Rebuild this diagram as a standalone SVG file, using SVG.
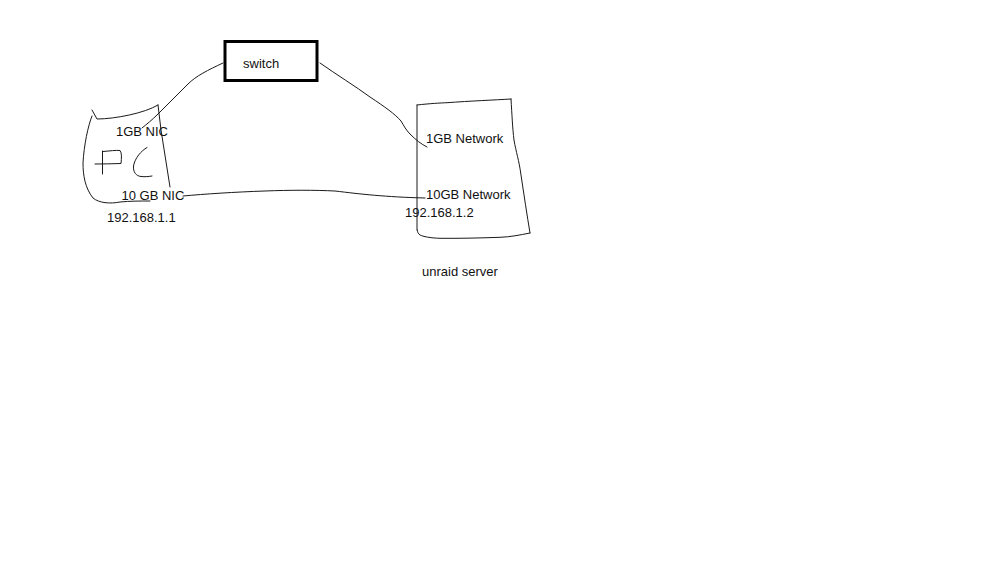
<svg xmlns="http://www.w3.org/2000/svg" width="1000" height="562" viewBox="0 0 1000 562">
<style>
.ink{fill:none;stroke:#1a1a1a;stroke-width:1;stroke-linecap:round;stroke-linejoin:round}
.t{font-family:"Liberation Sans",Arial,sans-serif;font-size:13px;fill:#111111}
</style>
<rect width="1000" height="562" fill="#ffffff"/>
<g id="connectors">
<path class="ink" d="M223,63 C208,70 196,76 188,84 C178,94 168,104 158,114 C152,120 147,124 142,128"/>
<path class="ink" d="M320,63 C337,75 355,86 370,97 C385,107 395,114 401,121 C404,126 406,130 410,134 C416,140 421,144 427,147"/>
<path class="ink" d="M183,196 C205,194 235,192 265,191 C290,190 315,190 335,191 C360,194 385,197 425,198"/>
</g>
<g id="switch">
<rect x="225" y="41.5" width="92" height="39" fill="#ffffff" stroke="#000000" stroke-width="3"/>
<text class="t" x="243" y="67.5">switch</text>
</g>
<g id="pc">
<path class="ink" d="M92,110 L97,119 C115,119 145,113 158,105"/>
<path class="ink" d="M158,105 L161,130 L170,187"/>
<path class="ink" d="M92,116 C88,126 84,145 83,163 C83,175 85,188 93,198 C99,203 110,204 120,202 C130,201 140,201 150,201"/>
<path class="ink" d="M102.5,151 L102.5,174"/>
<path class="ink" d="M103,151.5 C110,151 116,150 120,150.5 C122,153 121.5,158 121,163.5 C112,163.8 103,164 95,164"/>
<path class="ink" d="M147,147.5 C141,151 135,158 133.5,166 C133,172 136,176 141,176.5 C145,177 149,176.5 152,176"/>
<text class="t" x="116" y="136">1GB NIC</text>
<text class="t" x="121.5" y="200">10 GB NIC</text>
<text class="t" x="107" y="222">192.168.1.1</text>
</g>
<g id="server">
<path class="ink" d="M417,105 C430,103.5 440,103 447,102.7 C470,101 495,100 511,99"/>
<path class="ink" d="M511,99 C512,115 512.5,128 514,140 C516,152 519,160 521,175 C524,195 527,215 530,233"/>
<path class="ink" d="M530,233 C520,235 510,237 500,237.3 C480,238 460,238.5 440,238.3 C430,238 423,236.5 420,235 C418,233.5 417.5,232 417.3,230"/>
<path class="ink" d="M417,105 L417,230"/>
<text class="t" x="426" y="142.5">1GB Network</text>
<text class="t" x="426" y="198.5">10GB Network</text>
<text class="t" x="405" y="217">192.168.1.2</text>
<text class="t" x="422" y="276">unraid server</text>
</g>
</svg>
